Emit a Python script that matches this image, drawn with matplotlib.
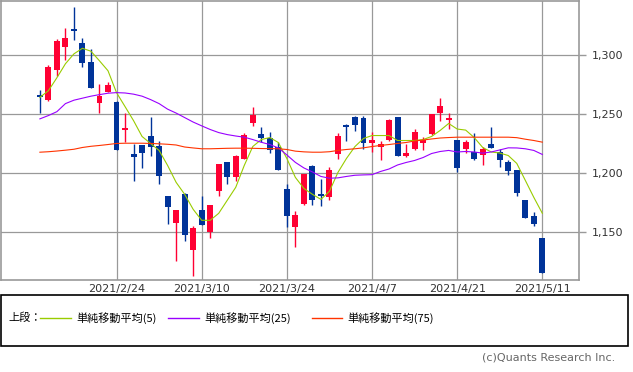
import numpy as np
import matplotlib
matplotlib.use('Agg')
from matplotlib import pyplot as plt
from matplotlib.patches import Rectangle
from matplotlib.lines import Line2D

plt.rcParams['font.family'] = ['DejaVu Sans', 'Noto Sans CJK JP']

dates = ['2021/2/9', '2021/2/10', '2021/2/12', '2021/2/15', '2021/2/16', '2021/2/17', '2021/2/18',
         '2021/2/19', '2021/2/22', '2021/2/24', '2021/2/25', '2021/2/26', '2021/3/1', '2021/3/2',
         '2021/3/3', '2021/3/4', '2021/3/5', '2021/3/8', '2021/3/9', '2021/3/10', '2021/3/11',
         '2021/3/12', '2021/3/15', '2021/3/16', '2021/3/17', '2021/3/18', '2021/3/19', '2021/3/22',
         '2021/3/23', '2021/3/24', '2021/3/25', '2021/3/26', '2021/3/29', '2021/3/30', '2021/3/31',
         '2021/4/1', '2021/4/2', '2021/4/5', '2021/4/6', '2021/4/7', '2021/4/8', '2021/4/9',
         '2021/4/12', '2021/4/13', '2021/4/14', '2021/4/15', '2021/4/16', '2021/4/19', '2021/4/20',
         '2021/4/21', '2021/4/22', '2021/4/23', '2021/4/26', '2021/4/27', '2021/4/28', '2021/4/30',
         '2021/5/6', '2021/5/7', '2021/5/10', '2021/5/11']
tick_dates = ['2021/2/24', '2021/3/10', '2021/3/24', '2021/4/7', '2021/4/21', '2021/5/11']

opens = [1265.0, 1262.0, 1287.4, 1306.7, 1320.5, 1310.0, 1294.1, 1258.9, 1268.8, 1260.4,
         1236.2, 1215.7, 1223.3, 1231.7, 1222.7, 1180.3, 1157.7, 1182.0, 1135.0, 1168.5,
         1150.2, 1184.5, 1208.9, 1196.5, 1211.7, 1242.1, 1233.1, 1230.0, 1221.8, 1186.8,
         1154.4, 1173.5, 1205.8, 1180.8, 1180.0, 1215.9, 1241.0, 1247.7, 1246.9, 1225.2,
         1221.8, 1227.7, 1247.1, 1214.8, 1220.1, 1225.2, 1233.1, 1250.8, 1245.0, 1228.1,
         1220.5, 1218.0, 1215.1, 1224.7, 1218.0, 1209.5, 1202.2, 1176.9, 1164.0, 1145.4]
highs = [1270.5, 1291.6, 1313.5, 1323.0, 1340.5, 1314.6, 1304.8, 1275.3, 1277.2, 1261.0,
         1251.1, 1224.7, 1223.3, 1247.1, 1227.2, 1180.3, 1168.5, 1183.0, 1155.0, 1180.3,
         1172.7, 1207.2, 1208.9, 1215.1, 1233.6, 1256.2, 1238.7, 1235.1, 1226.0, 1190.6,
         1167.9, 1198.8, 1206.7, 1195.2, 1205.0, 1234.2, 1241.5, 1248.3, 1248.6, 1235.1,
         1226.9, 1245.8, 1247.7, 1224.7, 1237.0, 1230.3, 1250.0, 1263.7, 1250.5, 1228.1,
         1228.1, 1234.0, 1221.8, 1239.3, 1220.1, 1210.6, 1202.2, 1177.5, 1166.8, 1145.4]
lows = [1251.0, 1261.0, 1282.3, 1295.8, 1312.6, 1289.9, 1272.2, 1250.5, 1268.8, 1219.3,
        1226.6, 1193.2, 1204.1, 1214.2, 1190.6, 1156.9, 1125.7, 1142.6, 1112.8, 1156.1,
        1144.9, 1180.3, 1190.4, 1192.9, 1211.7, 1240.1, 1226.0, 1216.8, 1202.4, 1154.4,
        1137.5, 1172.7, 1173.3, 1172.4, 1177.5, 1212.0, 1226.9, 1235.3, 1220.5, 1217.6,
        1210.9, 1226.9, 1214.8, 1213.4, 1219.3, 1219.6, 1232.3, 1244.3, 1237.3, 1200.5,
        1216.8, 1210.9, 1206.7, 1221.0, 1205.0, 1198.2, 1180.5, 1162.3, 1155.2, 1115.0]
closes = [1264.5, 1290.0, 1311.8, 1314.6, 1320.0, 1293.3, 1272.2, 1265.4, 1274.5, 1219.3,
          1238.4, 1213.4, 1216.8, 1221.8, 1197.4, 1171.3, 1168.5, 1147.6, 1153.9, 1156.1,
          1172.7, 1207.2, 1196.5, 1214.0, 1232.5, 1249.4, 1229.4, 1219.3, 1202.4, 1163.4,
          1164.2, 1198.8, 1177.1, 1180.3, 1202.8, 1230.9, 1238.7, 1240.4, 1225.5, 1228.3,
          1224.4, 1244.6, 1214.8, 1216.8, 1235.1, 1228.1, 1250.0, 1257.0, 1245.5, 1204.5,
          1226.4, 1211.7, 1220.1, 1221.0, 1210.9, 1201.6, 1183.1, 1162.3, 1156.9, 1115.6]

ma5 = [1264.0, 1269.6, 1280.6, 1292.4, 1300.8, 1305.5, 1303.0, 1294.9, 1286.5, 1268.0,
       1256.2, 1244.3, 1230.9, 1225.0, 1219.1, 1206.4, 1192.1, 1182.0, 1169.3, 1160.0,
       1160.0, 1165.9, 1176.9, 1187.9, 1206.4, 1222.4, 1228.3, 1230.0, 1225.8, 1212.3,
       1196.3, 1187.0, 1182.0, 1177.7, 1184.5, 1200.5, 1212.3, 1222.4, 1229.2, 1231.7,
       1231.7, 1231.7, 1227.5, 1227.5, 1227.5, 1228.3, 1230.9, 1236.0, 1241.9, 1237.2,
       1236.3, 1230.0, 1221.6, 1217.8, 1216.9, 1214.8, 1208.1, 1193.8, 1179.4, 1165.9]
ma25 = [1245.8, 1248.6, 1251.9, 1258.7, 1261.6, 1263.3, 1265.0, 1266.3, 1267.5, 1268.0,
        1267.7, 1266.7, 1265.0, 1262.1, 1258.7, 1254.0, 1250.7, 1246.9, 1243.1, 1239.9,
        1236.8, 1234.2, 1232.5, 1231.3, 1230.3, 1228.3, 1226.0, 1224.1, 1221.2, 1215.3,
        1209.0, 1204.3, 1200.9, 1197.1, 1195.6, 1195.9, 1197.1, 1198.1, 1198.4, 1198.6,
        1201.3, 1203.4, 1206.8, 1208.9, 1210.6, 1213.1, 1216.5, 1218.2, 1219.1, 1217.8,
        1218.2, 1217.8, 1216.8, 1217.8, 1219.5, 1221.3, 1221.2, 1220.5, 1219.1, 1215.7]
ma75 = [1217.6, 1218.0, 1218.6, 1219.3, 1220.1, 1221.6, 1222.6, 1223.3, 1224.1, 1225.0,
        1225.2, 1225.2, 1225.2, 1225.0, 1224.7, 1224.3, 1223.7, 1222.0, 1221.2, 1220.5,
        1220.5, 1220.7, 1220.9, 1221.0, 1221.0, 1220.9, 1220.7, 1220.6, 1220.5, 1219.9,
        1218.5, 1217.9, 1217.6, 1217.6, 1218.0, 1219.1, 1219.9, 1220.5, 1221.3, 1222.4,
        1223.3, 1224.1, 1225.0, 1225.8, 1227.1, 1227.9, 1228.8, 1229.6, 1230.0, 1230.3,
        1230.3, 1230.3, 1230.3, 1230.3, 1230.3, 1230.3, 1229.9, 1228.6, 1227.5, 1226.1]

ma_labels = ['単純移動平均(5)', '単純移動平均(25)', '単純移動平均(75)']
ma_colors = ['#99cc00', '#9900ff', '#ff3300']

up_color = '#ff0033'
down_color = '#003399'
grid_color = '#999999'

fig = plt.figure(figsize=(6.33, 3.72), dpi=100)
ax = fig.add_axes([0.0015, 1 - 280 / 372, 578 / 633, 279 / 372])

x = np.arange(len(dates))
o = np.array(opens)
c = np.array(closes)
colors = [up_color if cc > oo else down_color for oo, cc in zip(o, c)]

ax.vlines(x, lows, highs, colors=colors, linewidth=1.0, zorder=3)
body_bottom = np.minimum(o, c)
body_height = np.maximum(np.abs(c - o), 1.6)
ax.bar(x, body_height, bottom=body_bottom, width=0.7, color=colors, linewidth=0, zorder=4)

for vals, col in zip([ma5, ma25, ma75], ma_colors):
    ax.plot(x, vals, color=col, linewidth=0.8, zorder=5)

ax.set_xlim(-4.57, 63.3)
ax.set_ylim(1109.5, 1345.5)

ax.set_xticks([dates.index(d) for d in tick_dates])
ax.set_xticklabels(tick_dates)
ax.set_yticks([1150, 1200, 1250, 1300])
ax.set_yticklabels(['1,150', '1,200', '1,250', '1,300'])
ax.yaxis.tick_right()
ax.tick_params(axis='y', length=5, width=1, color=grid_color, pad=4, labelsize=8, labelcolor='#333333')
ax.tick_params(axis='x', length=0, pad=3, labelsize=8, labelcolor='#333333')
ax.grid(True, color=grid_color, linewidth=0.9)
ax.set_axisbelow(True)
for sp in ax.spines.values():
    sp.set_color(grid_color)
    sp.set_linewidth(1.2)

# legend box
fig.patches.append(Rectangle((1 / 633, 1 - 346 / 372), 627 / 633, 51 / 372,
                             transform=fig.transFigure, fill=False, edgecolor='black', linewidth=1.2))
ty = 1 - 318 / 372
fig.text(8 / 633, ty, '上段：', fontsize=8, va='center', family=['Noto Sans CJK JP'])
line_x = [(40, 71), (168, 199), (312, 342)]
for (x0, x1), col, lab in zip(line_x, ma_colors, ma_labels):
    fig.lines.append(Line2D([x0 / 633, x1 / 633], [ty, ty], transform=fig.transFigure, color=col, linewidth=1.0))
    fig.text((x1 + 5) / 633, ty, lab, fontsize=8, va='center', family=['Noto Sans CJK JP', 'DejaVu Sans'])

fig.text(615 / 633, 1 - 358 / 372, '(c)Quants Research Inc.', fontsize=8, color='#666666',
         ha='right', va='center')

fig.savefig('out.png', dpi=100)
